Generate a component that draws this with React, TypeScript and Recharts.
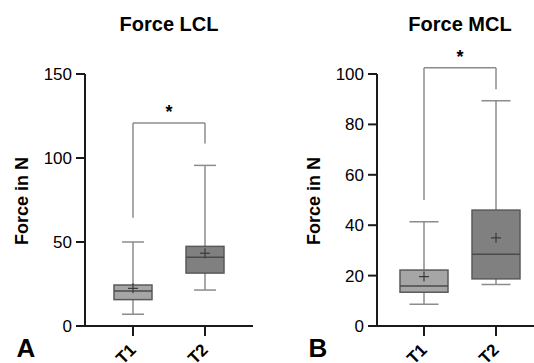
import React from 'react';
import { ComposedChart, Bar, XAxis, YAxis, ReferenceLine } from 'recharts';

const categories = ['T1', 'T2'];

const lclMin = [7.0, 21.4];
const lclQ1 = [15.7, 31.5];
const lclMedian = [20.8, 40.9];
const lclQ3 = [24.4, 47.4];
const lclMax = [50.0, 95.6];
const lclMean = [22.4, 43.3];

const mclMin = [8.6, 16.5];
const mclQ1 = [13.4, 18.7];
const mclMedian = [15.9, 28.5];
const mclQ3 = [22.2, 46.0];
const mclMax = [41.4, 89.4];
const mclMean = [19.6, 35.0];

const lclTicks = [0, 50, 100, 150];
const mclTicks = [0, 20, 40, 60, 80, 100];

// significance brackets: [T1 leg bottom, bracket top, T2 leg bottom]
const lclBracket = [64.5, 120.8, 108.7];
const mclBracket = [50.0, 102.5, 93.9];

const boxFills = ['#a6a6a6', '#808080'];

const FONT = '"Liberation Sans", Arial, sans-serif';

function buildRows(mn: number[], q1: number[], md: number[], q3: number[], mx: number[], mean: number[]) {
  return categories.map((c, i) => ({
    name: c,
    idx: i,
    min: mn[i],
    q1: q1[i],
    median: md[i],
    q3: q3[i],
    max: mx[i],
    mean: mean[i],
    range: [mn[i], mx[i]],
  }));
}

const lclRows = buildRows(lclMin, lclQ1, lclMedian, lclQ3, lclMax, lclMean);
const mclRows = buildRows(mclMin, mclQ1, mclMedian, mclQ3, mclMax, mclMean);

const makeBoxShape = (capW: number) => (props: any) => {
  const { x, y, width, height, payload } = props;
  if (payload == null || height == null) return <g />;
  const lo = payload.min;
  const hi = payload.max;
  const py = (v: number) => y + (height * (hi - v)) / (hi - lo);
  const cx = x + width / 2;
  const yMax = py(payload.max);
  const yMin = py(payload.min);
  const yQ1 = py(payload.q1);
  const yQ3 = py(payload.q3);
  const yMed = py(payload.median);
  const yMean = py(payload.mean);
  const wc = '#8c8c8c';
  return (
    <g>
      <line x1={cx} x2={cx} y1={yMax} y2={yQ3} stroke={wc} strokeWidth={1.5} />
      <line x1={cx} x2={cx} y1={yQ1} y2={yMin} stroke={wc} strokeWidth={1.5} />
      <line x1={cx - capW / 2} x2={cx + capW / 2} y1={yMax} y2={yMax} stroke={wc} strokeWidth={1.5} />
      <line x1={cx - capW / 2} x2={cx + capW / 2} y1={yMin} y2={yMin} stroke={wc} strokeWidth={1.5} />
      <rect x={x} y={yQ3} width={width} height={yQ1 - yQ3} fill={boxFills[payload.idx]} stroke="#5a5a5a" strokeWidth={1.5} />
      <line x1={x} x2={x + width} y1={yMed} y2={yMed} stroke="#4a4a4a" strokeWidth={1.5} />
      <line x1={cx - 5} x2={cx + 5} y1={yMean} y2={yMean} stroke="#3a3a3a" strokeWidth={1.2} />
      <line x1={cx} x2={cx} y1={yMean - 5} y2={yMean + 5} stroke="#3a3a3a" strokeWidth={1.2} />
    </g>
  );
};

const XTick = (props: any) => {
  const { x, y, payload } = props;
  return (
    <g transform={`translate(${x + 4},${y + 15})`}>
      <text x={0} y={0} textAnchor="end" transform="rotate(-45)" fontFamily={FONT} fontSize={17} fontWeight="bold" fill="#000">
        {payload.value}
      </text>
    </g>
  );
};

const axisStroke = '#1a1a1a';

function Panel(props: {
  rows: any[];
  ticks: number[];
  bracket: number[];
  yAxisWidth: number;
  marginRight: number;
  padLeft: number;
  padRight: number;
  boxW: number;
  capW: number;
}) {
  const { rows, ticks, bracket, yAxisWidth, marginRight, padLeft, padRight, boxW, capW } = props;
  const top = ticks[ticks.length - 1];
  return (
    <ComposedChart width={267} height={363} data={rows} margin={{ top: 74, right: marginRight, bottom: 0, left: 0 }}>
      <XAxis
        dataKey="name"
        height={37}
        padding={{ left: padLeft, right: padRight }}
        axisLine={{ stroke: axisStroke, strokeWidth: 2 }}
        tickLine={{ stroke: axisStroke, strokeWidth: 2 }}
        tickSize={10}
        tickMargin={0}
        tick={<XTick />}
        interval={0}
      />
      <YAxis
        type="number"
        domain={[0, top]}
        ticks={ticks}
        width={yAxisWidth}
        axisLine={{ stroke: axisStroke, strokeWidth: 2 }}
        tickLine={{ stroke: axisStroke, strokeWidth: 2 }}
        tickSize={9}
        tickMargin={4}
        tick={{ fontFamily: FONT, fontSize: 17, fill: '#000' }}
        allowDataOverflow
      />
      <Bar dataKey="range" barSize={boxW} shape={makeBoxShape(capW)} isAnimationActive={false} />
      <ReferenceLine
        segment={[{ x: 'T1', y: bracket[0] }, { x: 'T1', y: bracket[1] }]}
        stroke="#8c8c8c"
        strokeWidth={1.5}
        ifOverflow="visible"
      />
      <ReferenceLine
        segment={[{ x: 'T1', y: bracket[1] }, { x: 'T2', y: bracket[1] }]}
        stroke="#8c8c8c"
        strokeWidth={1.5}
        ifOverflow="visible"
      />
      <ReferenceLine
        segment={[{ x: 'T2', y: bracket[1] }, { x: 'T2', y: bracket[2] }]}
        stroke="#8c8c8c"
        strokeWidth={1.5}
        ifOverflow="visible"
      />
    </ComposedChart>
  );
}

export default function App() {
  return (
    <div style={{ position: 'absolute', left: 0, top: 0, width: 534, height: 363, background: '#fff', overflow: 'hidden' }}>
      <div style={{ position: 'absolute', left: 0, top: 0 }}>
        <Panel rows={lclRows} ticks={lclTicks} bracket={lclBracket} yAxisWidth={85} marginRight={14} padLeft={12} padRight={12} boxW={38} capW={22} />
      </div>
      <div style={{ position: 'absolute', left: 267, top: 0 }}>
        <Panel rows={mclRows} ticks={mclTicks} bracket={mclBracket} yAxisWidth={110} marginRight={0} padLeft={11} padRight={2} boxW={48} capW={29} />
      </div>
      <svg width={534} height={363} style={{ position: 'absolute', left: 0, top: 0, pointerEvents: 'none' }}>
        <g fontFamily={FONT} fontWeight="bold" fill="#000">
          <text x={169} y={31} textAnchor="middle" fontSize={20}>Force LCL</text>
          <text x={460} y={31} textAnchor="middle" fontSize={20}>Force MCL</text>
          <text x={169} y={118} textAnchor="middle" fontSize={18}>*</text>
          <text x={460} y={63} textAnchor="middle" fontSize={18}>*</text>
          <text transform="translate(28,201) rotate(-90)" textAnchor="middle" fontSize={18}>Force in N</text>
          <text transform="translate(320,201) rotate(-90)" textAnchor="middle" fontSize={18}>Force in N</text>
          <text x={26} y={357} textAnchor="middle" fontSize={26}>A</text>
          <text x={318} y={357} textAnchor="middle" fontSize={26}>B</text>
        </g>
      </svg>
    </div>
  );
}
